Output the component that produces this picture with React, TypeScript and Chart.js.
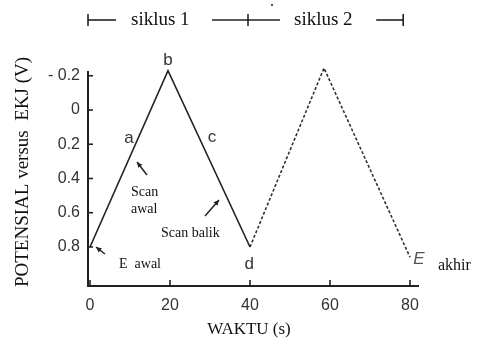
import React, { useEffect, useRef } from 'react';
import { Chart, registerables } from 'chart.js';

Chart.register(...registerables);

// cycle 1 (solid) and cycle 2 (dashed) potential sweep
const cycle1Time = [0, 19.5, 40];
const cycle1Potential = [0.8, -0.23, 0.8];
const cycle2Time = [40, 58.5, 80];
const cycle2Potential = [0.8, -0.245, 0.86];

const xTicks = [0, 20, 40, 60, 80];
const yTicks = [-0.2, 0, 0.2, 0.4, 0.6, 0.8];
const yTickLabels = ['- 0.2', '0', '0.2', '0.4', '0.6', '0.8'];

const pointLetters = ['a', 'b', 'c', 'd'];
const pointLetterTime = [9.75, 19.5, 30.5, 39.8];
const pointLetterPotential = [0.165, -0.29, 0.158, 0.9];

const xTitle = 'WAKTU (s)';
const yTitle = 'POTENSIAL versus  EKJ (V)';
const cycleLabels = ['siklus 1', 'siklus 2'];

const SERIF = '"Liberation Serif", "DejaVu Serif", serif';
const SANS = '"Liberation Sans", Arial, sans-serif';

function arrow(ctx: CanvasRenderingContext2D, x1: number, y1: number, x2: number, y2: number) {
  // from (x1,y1) tail to (x2,y2) head
  const ang = Math.atan2(y2 - y1, x2 - x1);
  ctx.beginPath();
  ctx.moveTo(x1, y1);
  ctx.lineTo(x2, y2);
  ctx.stroke();
  const h = 6;
  ctx.beginPath();
  ctx.moveTo(x2, y2);
  ctx.lineTo(x2 - h * Math.cos(ang - 0.45), y2 - h * Math.sin(ang - 0.45));
  ctx.lineTo(x2 - h * Math.cos(ang + 0.45), y2 - h * Math.sin(ang + 0.45));
  ctx.closePath();
  ctx.fill();
}

const annotPlugin = {
  id: 'annot',
  afterDraw(chart: any) {
    const { ctx, chartArea } = chart;
    const xs = chart.scales.x;
    const ys = chart.scales.y;
    const left = chartArea.left;
    const bottom = chartArea.bottom;
    ctx.save();
    ctx.strokeStyle = '#222';
    ctx.fillStyle = '#222';
    ctx.lineWidth = 1.6;
    // inner ticks
    yTicks.forEach((v) => {
      const py = ys.getPixelForValue(v);
      ctx.beginPath();
      ctx.moveTo(left, py);
      ctx.lineTo(left + 5, py);
      ctx.stroke();
    });
    xTicks.forEach((v) => {
      const px = xs.getPixelForValue(v);
      ctx.beginPath();
      ctx.moveTo(px, bottom);
      ctx.lineTo(px, bottom - 6);
      ctx.stroke();
    });

    // header brackets
    const hy = 20;
    const x0 = xs.getPixelForValue(0) - 2;
    const x40 = xs.getPixelForValue(40) - 2;
    const xEnd = xs.getPixelForValue(78.3);
    ctx.lineWidth = 1.6;
    const seg = (a: number, b: number, c: number, d: number) => {
      ctx.beginPath();
      ctx.moveTo(a, b);
      ctx.lineTo(c, d);
      ctx.stroke();
    };
    seg(x0, hy - 6, x0, hy + 6);
    seg(x0, hy, x0 + 28, hy);
    seg(x40 - 36, hy, x40 + 32, hy);
    seg(x40, hy - 6, x40, hy + 6);
    seg(xEnd - 27, hy, xEnd, hy);
    seg(xEnd, hy - 6, xEnd, hy + 6);
    ctx.fillStyle = '#111';
    ctx.font = `19px ${SERIF}`;
    ctx.textBaseline = 'middle';
    ctx.textAlign = 'left';
    ctx.fillText(cycleLabels[0], 131, hy);
    ctx.fillText(cycleLabels[1], 294, hy);
    ctx.beginPath();
    ctx.arc(272, 5, 1, 0, Math.PI * 2);
    ctx.fill();

    // axis titles
    ctx.save();
    ctx.translate(23, 172);
    ctx.rotate(-Math.PI / 2);
    ctx.textAlign = 'center';
    ctx.font = `19px ${SERIF}`;
    ctx.fillText(yTitle, 0, 0);
    ctx.restore();
    ctx.textAlign = 'center';
    ctx.font = `17px ${SERIF}`;
    ctx.fillText(xTitle, 249, 330);

    // point letters
    ctx.fillStyle = '#333';
    ctx.font = `17px ${SANS}`;
    pointLetters.forEach((t, i) => {
      ctx.fillText(t, xs.getPixelForValue(pointLetterTime[i]), ys.getPixelForValue(pointLetterPotential[i]));
    });
    ctx.font = `italic 17px ${SANS}`;
    ctx.fillStyle = '#555';
    ctx.fillText('E', 419, 259);

    // serif notes
    ctx.fillStyle = '#111';
    ctx.textAlign = 'left';
    ctx.font = `16px ${SERIF}`;
    ctx.fillText('akhir', 438, 266);
    ctx.font = `14px ${SERIF}`;
    ctx.fillText('Scan', 131, 192);
    ctx.fillText('awal', 131, 209);
    ctx.fillText('Scan balik', 161, 233);
    ctx.fillText('E  awal', 119, 264);

    // arrows
    ctx.strokeStyle = '#222';
    ctx.fillStyle = '#222';
    ctx.lineWidth = 1.5;
    arrow(ctx, 147, 175, 137, 162);
    arrow(ctx, 205, 216, 219, 200);
    arrow(ctx, 105, 254, 96, 247);
    ctx.restore();
  },
};

export default function App() {
  const ref = useRef<HTMLCanvasElement | null>(null);
  useEffect(() => {
    if (!ref.current) return;
    const chart = new Chart(ref.current, {
      type: 'line',
      data: {
        datasets: [
          {
            data: cycle1Time.map((t, i) => ({ x: t, y: cycle1Potential[i] })),
            borderColor: '#222',
            borderWidth: 1.6,
            pointRadius: 0,
            tension: 0,
            clip: false as any,
          },
          {
            data: cycle2Time.map((t, i) => ({ x: t, y: cycle2Potential[i] })),
            borderColor: '#333',
            borderWidth: 1.6,
            borderDash: [3, 2],
            pointRadius: 0,
            tension: 0,
            clip: false as any,
          },
        ],
      },
      options: {
        responsive: false,
        animation: false,
        devicePixelRatio: 1,
        layout: { padding: { top: 72, right: 61, left: 0, bottom: 0 } },
        plugins: { legend: { display: false }, tooltip: { enabled: false } },
        scales: {
          x: {
            type: 'linear',
            min: -0.5,
            max: 82,
            afterBuildTicks: (s: any) => {
              s.ticks = xTicks.map((v) => ({ value: v }));
            },
            afterFit: (s: any) => {
              s.height = 65;
            },
            grid: { display: true, drawOnChartArea: false, drawTicks: false },
            border: { display: true, color: '#222', width: 2 },
            ticks: {
              font: { family: SANS, size: 16 },
              color: '#333',
              padding: 10,
              maxRotation: 0,
              autoSkip: false,
              callback: (v: any) => String(v),
            },
          },
          y: {
            type: 'linear',
            min: -0.222,
            max: 1.028,
            reverse: true,
            afterBuildTicks: (s: any) => {
              s.ticks = yTicks.map((v) => ({ value: v }));
            },
            afterFit: (s: any) => {
              s.width = 88;
            },
            grid: { display: true, drawOnChartArea: false, drawTicks: false },
            border: { display: true, color: '#222', width: 2 },
            ticks: {
              font: { family: SANS, size: 16 },
              color: '#333',
              padding: 8,
              autoSkip: false,
              callback: (_v: any, i: number) => yTickLabels[i],
            },
          },
        },
      },
      plugins: [annotPlugin],
    });
    return () => chart.destroy();
  }, []);
  return (
    <div style={{ position: 'fixed', left: 0, top: 0, width: 479, height: 351, background: '#fff' }}>
      <canvas ref={ref} width={479} height={351} style={{ display: 'block' }} />
    </div>
  );
}
